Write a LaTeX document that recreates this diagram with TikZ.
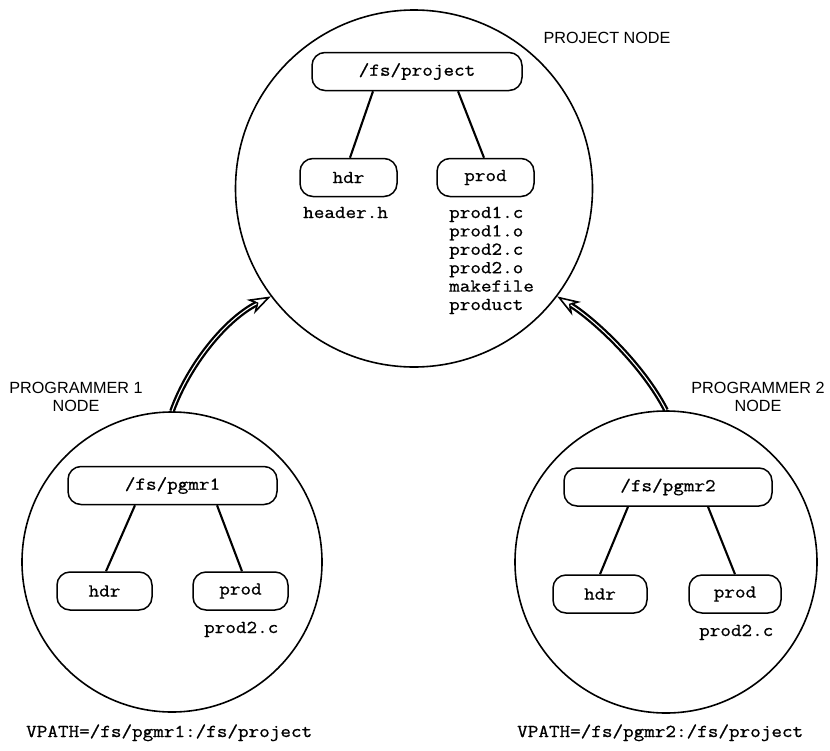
\documentclass[tikz,border=0pt]{standalone}
\usepackage{fontspec}
\setmonofont{Latin Modern Mono}[FakeBold=0.9,FakeStretch=1.13]
\newfontfamily\labelfont{Liberation Sans}
\usetikzlibrary{arrows.meta}
\begin{document}
\begin{tikzpicture}[x=1pt,y=-1pt,
  every node/.style={font=\ttfamily\fontsize{18.2}{18.4}\selectfont},
  site/.style={circle, draw, line width=1.6pt, inner sep=0pt},
  dirbox/.style={draw, line width=1.5pt, rounded corners=13pt, inner sep=0pt, minimum height=38pt},
  link/.style={line width=2.1pt},
  file/.style={inner sep=0pt, anchor=base west, text height=10pt, text depth=2.5pt},
  caption/.style={font=\labelfont\fontsize{16.2}{18}\selectfont, align=center, inner sep=0pt},
  mounttip/.style={line width=1.6pt, -{Stealth[open, length=23pt, width=16pt, inset=7pt, fill=white]}},
  mountshaft/.style={double=white, double distance=1.1pt, line width=2.3pt, shorten >=16pt}
]
\useasboundingbox (0,0) rectangle (830,750);

% the three nodes of the network
\node[site, minimum size=357pt] (proj) at (414,188.5) {};
\node[site, minimum size=300pt] (pg1) at (172,562) {};
\node[site, minimum size=302pt] (pg2) at (666,562) {};

\node[caption] (projlabel) at (607,38) {PROJECT NODE};
\node[caption] (pg1label) at (76,397) {PROGRAMMER 1\\NODE};
\node[caption] (pg2label) at (758,397) {PROGRAMMER 2\\NODE};

% project tree
\node[dirbox, minimum width=210pt] (projroot) at (417,71.5) {/fs/project};
\node[dirbox, minimum width=97pt] (projhdr) at (348.5,177.5) {hdr};
\node[dirbox, minimum width=97pt] (projprod) at (485.5,177.5) {prod};
\draw[link] ([xshift=-44pt]projroot.south) -- ([xshift=1.5pt]projhdr.north);
\draw[link] ([xshift=41pt]projroot.south) -- ([xshift=-1.5pt]projprod.north);
\node[file] (hdrfile) at (303,218) {header.h};
\foreach \f [count=\i] in {prod1.c,prod1.o,prod2.c,prod2.o,makefile,product}
  \node[file] (projfile\i) at (449,{218+18.4*(\i-1)}) {\f};

% programmer 1 tree
\node[dirbox, minimum width=209pt] (pg1root) at (172.5,485.5) {/fs/pgmr1};
\node[dirbox, minimum width=95pt] (pg1hdr) at (104.5,591) {hdr};
\node[dirbox, minimum width=95pt] (pg1prod) at (240.5,591) {prod};
\draw[link] ([xshift=-37.5pt]pg1root.south) -- ([xshift=1.5pt]pg1hdr.north);
\draw[link] ([xshift=44.5pt]pg1root.south) -- ([xshift=1.5pt]pg1prod.north);
\node[file] (pg1file) at (204,633) {prod2.c};
\node[file] (pg1path) at (26,737) {VPATH=/fs/pgmr1:/fs/project};

% programmer 2 tree
\node[dirbox, minimum width=208pt] (pg2root) at (668,487) {/fs/pgmr2};
\node[dirbox, minimum width=94pt] (pg2hdr) at (600,594) {hdr};
\node[dirbox, minimum width=92pt] (pg2prod) at (735,594) {prod};
\draw[link] ([xshift=-40pt]pg2root.south) -- (pg2hdr.north);
\draw[link] ([xshift=40pt]pg2root.south) -- (pg2prod.north);
\node[file] (pg2file) at (699,636) {prod2.c};
\node[file] (pg2path) at (517,737) {VPATH=/fs/pgmr2:/fs/project};

% mount arrows from the programmer nodes to the project node
\draw[mounttip] (pg1.north) .. controls +(17,-47) and +(-45,23) .. (proj.217);
\draw[mountshaft] (pg1.north) .. controls +(17,-47) and +(-45,23) .. (proj.217);
\draw[mounttip] (pg2.north) .. controls +(-23,-45) and +(38,24) .. (proj.323.6);
\draw[mountshaft] (pg2.north) .. controls +(-23,-45) and +(38,24) .. (proj.323.6);
\end{tikzpicture}
\end{document}
